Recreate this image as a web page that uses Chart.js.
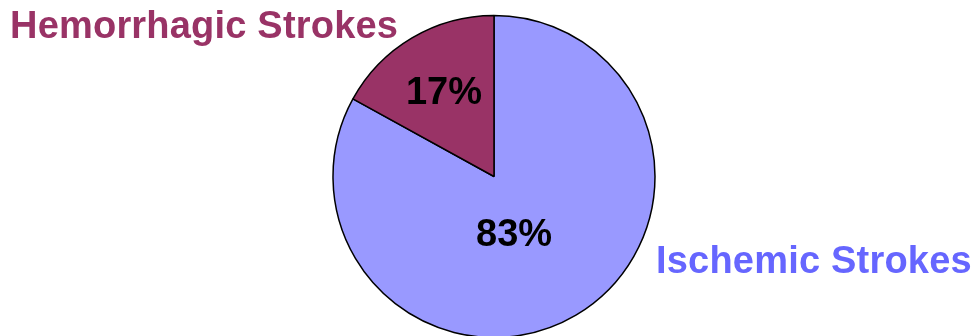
<!DOCTYPE html>
<html><head><meta charset="utf-8">
<script src="https://cdn.jsdelivr.net/npm/chart.js@4"></script>
<style>html,body{margin:0;padding:0;background:#fff;}#wrap{width:978px;height:336px;position:relative;}</style>
</head><body><div id="wrap"><canvas id="c" width="978" height="336"></canvas></div>
<script>
const categories = ["Ischemic Strokes", "Hemorrhagic Strokes"];
const values = [83, 17];
const valueLabels = ["83%", "17%"];
const sliceColors = ["#9999FF", "#993366"];
const nameColors = ["#6666FF", "#993366"];

const labelPlugin = {
  id: 'labels',
  afterDatasetsDraw(chart) {
    const ctx = chart.ctx;
    const arcs = chart.getDatasetMeta(0).data;
    ctx.save();
    ctx.font = 'bold 38px "Liberation Sans", Arial, sans-serif';
    ctx.textBaseline = 'alphabetic';
    const a0 = arcs[0], a1 = arcs[1];
    const cx = a0.x, cy = a0.y, r = a0.outerRadius;
    ctx.fillStyle = '#000';
    ctx.textAlign = 'center';
    const mid1 = (a1.startAngle + a1.endAngle) / 2;
    ctx.fillText(valueLabels[1], cx + Math.cos(mid1) * r * 0.61, cy + Math.sin(mid1) * r * 0.61 + 12);
    ctx.fillText(valueLabels[0], cx + r * 0.125, cy + r * 0.43);
    ctx.textAlign = 'left';
    ctx.letterSpacing = '0.2px';
    ctx.fillStyle = nameColors[1];
    ctx.fillText(categories[1], 10, 38);
    ctx.fillStyle = nameColors[0];
    ctx.fillText(categories[0], 656, 273);
    ctx.restore();
  }
};

new Chart(document.getElementById('c'), {
  type: 'pie',
  data: {
    labels: categories,
    datasets: [{
      data: values,
      backgroundColor: sliceColors,
      borderColor: '#000',
      borderWidth: 1.5,
      borderAlign: 'center'
    }]
  },
  options: {
    responsive: false,
    animation: false,
    radius: 161,
    layout: { padding: { top: 17, bottom: 0, left: 10, right: 0 } },
    plugins: { legend: { display: false }, tooltip: { enabled: false } }
  },
  plugins: [labelPlugin]
});
</script></body></html>
